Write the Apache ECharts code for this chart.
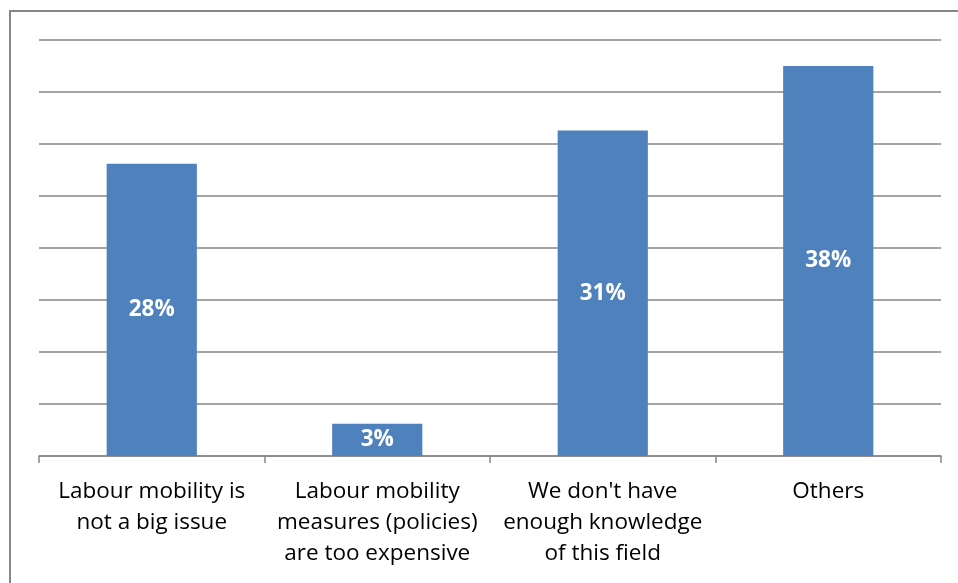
<!DOCTYPE html>
<html>
<head>
<meta charset="utf-8">
<script src="https://cdn.jsdelivr.net/npm/echarts@6/dist/echarts.min.js"></script>
<style>
html,body{margin:0;padding:0;background:#fff;}
#c{width:958px;height:583px;}
</style>
</head>
<body>
<div id="c"></div>
<script>
var categories = ["Labour mobility is\nnot a big issue", "Labour mobility\nmeasures (policies)\nare too expensive", "We don't have\nenough knowledge\nof this field", "Others"];
var values = [28.1, 3.1, 31.3, 37.5];
var valueLabels = ["28%", "3%", "31%", "38%"];

var chart = echarts.init(document.getElementById('c'));
chart.setOption({
  animation: false,
  backgroundColor: '#fff',
  graphic: [{
    type: 'polyline',
    shape: { points: [[10, 600], [10, 11], [970, 11]] },
    style: { stroke: '#868686', lineWidth: 2, fill: null },
    silent: true
  }],
  grid: { left: 39, right: 17, top: 40, bottom: 127 },
  xAxis: {
    type: 'category',
    data: categories,
    axisLine: { lineStyle: { color: '#868686', width: 1.5 } },
    axisTick: { show: true, length: 7, lineStyle: { color: '#868686', width: 1.5 } },
    axisLabel: {
      color: '#000',
      fontFamily: '"Open Sans", sans-serif',
      fontSize: 22.5,
      lineHeight: 31,
      margin: 20,
      interval: 0
    }
  },
  yAxis: {
    type: 'value',
    min: 0, max: 40, interval: 5,
    axisLine: { show: false },
    axisTick: { show: false },
    axisLabel: { show: false },
    splitLine: { lineStyle: { color: '#868686', width: 1.5 } }
  },
  series: [{
    type: 'bar',
    data: values,
    barWidth: '40%',
    itemStyle: { color: '#4F81BD' },
    label: {
      show: true,
      position: 'inside',
      color: '#fff',
      fontWeight: 'bold',
      fontFamily: '"Open Sans", sans-serif',
      fontSize: 22.5,
      formatter: function (p) { return valueLabels[p.dataIndex]; }
    }
  }]
});
</script>
</body>
</html>
